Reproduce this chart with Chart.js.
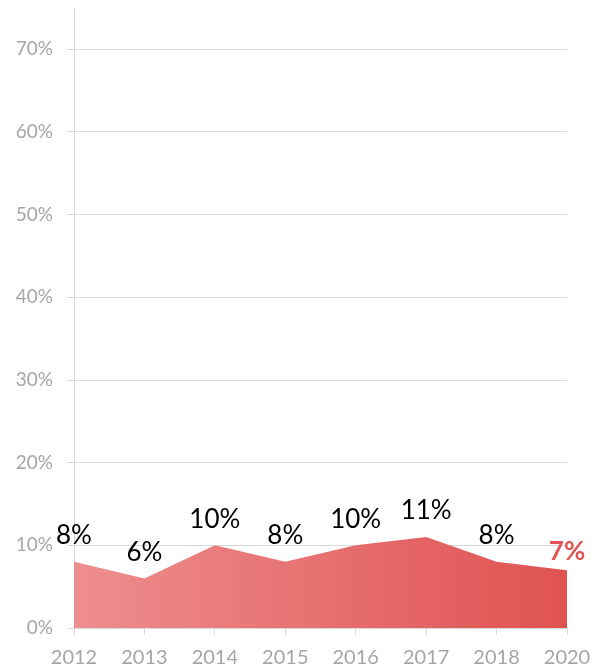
<!DOCTYPE html>
<html>
<head>
<meta charset="utf-8">
<script src="https://cdn.jsdelivr.net/npm/chart.js@4/dist/chart.umd.min.js"></script>
<style>
  html, body { margin: 0; padding: 0; background: #fff; }
  #wrap { width: 593px; height: 670px; }
</style>
</head>
<body>
<div id="wrap"><canvas id="chart"></canvas></div>
<script>
const years = ['2012', '2013', '2014', '2015', '2016', '2017', '2018', '2020'];
const rates = [8, 6, 10, 8, 10, 11, 8, 7];
const yTicks = [0, 10, 20, 30, 40, 50, 60, 70];

const FONT = 'Lato, "Open Sans", sans-serif';

// labels above each point, last one highlighted
const pointLabels = {
    id: 'pointLabels',
    afterDatasetsDraw(chart) {
        const ctx = chart.ctx;
        const meta = chart.getDatasetMeta(0);
        ctx.save();
        ctx.textAlign = 'center';
        ctx.textBaseline = 'middle';
        meta.data.forEach((pt, i) => {
            const last = i === rates.length - 1;
            ctx.font = (last ? 'bold ' : '') + '26px ' + FONT;
            ctx.fillStyle = last ? '#E25555' : '#000';
            ctx.fillText(rates[i] + '%', pt.x, pt.y - (last ? 19 : 26));
        });
        ctx.restore();
    }
};

new Chart(document.getElementById('chart'), {
    type: 'line',
    data: {
        labels: years,
        datasets: [{
            data: rates,
            fill: 'origin',
            borderWidth: 0,
            pointRadius: 0,
            tension: 0,
            backgroundColor: (c) => {
                const area = c.chart.chartArea;
                if (!area) return '#E87070';
                const g = c.chart.ctx.createLinearGradient(area.left, 0, area.right, 0);
                g.addColorStop(0, '#EE8E8E');
                g.addColorStop(1, '#E05252');
                return g;
            }
        }]
    },
    options: {
        responsive: true,
        maintainAspectRatio: false,
        animation: false,
        layout: { padding: { top: 8, right: 26, left: 0, bottom: 0 } },
        plugins: { legend: { display: false }, tooltip: { enabled: false } },
        scales: {
            x: {
                offset: false,
                grid: { drawOnChartArea: false, color: '#D9D9D9', tickLength: 7 },
                border: { color: '#D9D9D9' },
                ticks: { color: '#A6A6A6', font: { family: FONT, size: 20 }, padding: 11, maxRotation: 0 },
                afterFit: (s) => { s.height = 42; s.paddingLeft = 0; s.paddingRight = 0; }
            },
            y: {
                min: 0,
                max: 75,
                afterBuildTicks: (s) => { s.ticks = yTicks.map(v => ({ value: v })); },
                grid: { color: '#D9D9D9', tickLength: 7 },
                border: { color: '#D9D9D9' },
                ticks: { color: '#A6A6A6', font: { family: FONT, size: 19 }, padding: 14, callback: (v) => v + '%' },
                afterFit: (s) => { s.width = 74; s.paddingTop = 0; s.paddingBottom = 0; }
            }
        }
    },
    plugins: [pointLabels]
});
</script>
</body>
</html>
